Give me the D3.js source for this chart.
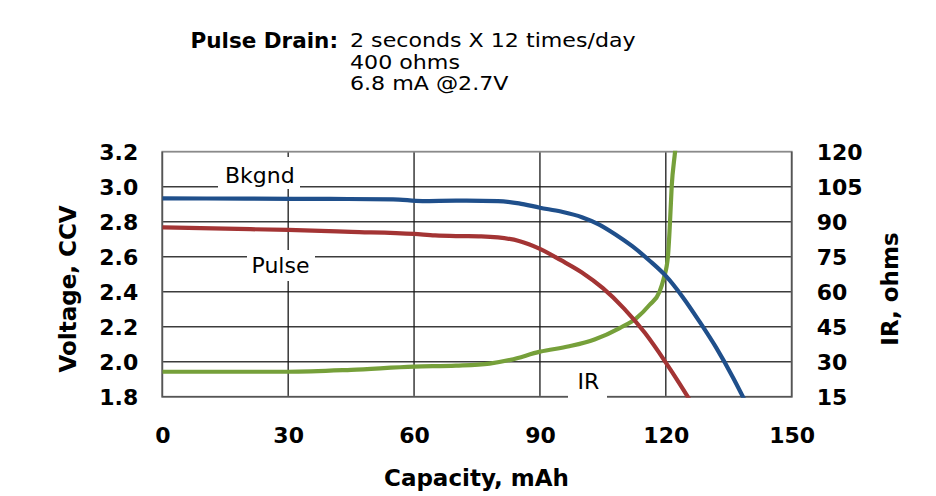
<!DOCTYPE html>
<html>
<head>
<meta charset="utf-8">
<script src="https://cdn.jsdelivr.net/npm/d3@7"></script>
<style>
  html, body { margin: 0; padding: 0; background: #fff; }
  svg { display: block; font-family: "DejaVu Sans", Verdana, sans-serif; }
</style>
</head>
<body>
<svg id="chart" width="936" height="496"></svg>
<script>
// ---- data ----
const xTicks = [0, 30, 60, 90, 120, 150];
const voltageTicks = [1.8, 2.0, 2.2, 2.4, 2.6, 2.8, 3.0, 3.2];
const irTicks = [15, 30, 45, 60, 75, 90, 105, 120];

const bkgndCapacity = [0, 20, 40, 55, 62, 70, 80, 85, 90, 95, 100, 104, 108, 112, 116, 120, 124, 128, 132, 136, 139];
const bkgndVoltage  = [2.933, 2.932, 2.93, 2.928, 2.918, 2.92, 2.918, 2.905, 2.88, 2.858, 2.826, 2.785, 2.727, 2.66, 2.58, 2.49, 2.37, 2.23, 2.08, 1.91, 1.77];

const pulseCapacity = [0, 15, 30, 45, 60, 65, 70, 76, 80, 85, 90, 95, 100, 105, 110, 115, 120, 123, 126];
const pulseVoltage  = [2.768, 2.76, 2.753, 2.742, 2.73, 2.722, 2.718, 2.716, 2.71, 2.69, 2.645, 2.58, 2.51, 2.42, 2.305, 2.165, 1.995, 1.885, 1.77];

const irCapacity = [0, 30, 45, 60, 70, 78, 83, 90, 97, 103, 109, 113, 116.1, 118.5, 119.5, 120.5, 121, 121.4, 122.2, 122.5];
const irOhms     = [25.7, 25.7, 26.5, 27.9, 28.3, 29.2, 30.8, 34.3, 36.6, 39.5, 44.4, 48.7, 54.3, 60, 65.7, 75, 90, 105, 120, 126];

const seriesLabels = ["Bkgnd", "Pulse", "IR"];
const headerKey = "Pulse Drain:";
const headerLines = ["2 seconds X 12 times/day", "400 ohms", "6.8 mA @2.7V"];
const xTitle = "Capacity, mAh";
const yLeftTitle = "Voltage, CCV";
const yRightTitle = "IR, ohms";

// ---- layout ----
const svg = d3.select("#chart");
const L = 162.3, R = 791.7, T = 151.7, B = 396.7;

const x = d3.scaleLinear().domain([0, 150]).range([L, R]);
const yV = d3.scaleLinear().domain([1.8, 3.2]).range([B, T]);
const yI = d3.scaleLinear().domain([15, 120]).range([B, T]);

// clip
svg.append("defs").append("clipPath").attr("id", "plotclip")
  .append("rect").attr("x", L).attr("y", T - 1).attr("width", R - L).attr("height", B - T + 2);

// grid
const grid = svg.append("g");
grid.selectAll("line.h").data(voltageTicks.filter(v => v > 1.8 && v < 3.2)).enter()
  .append("line").attr("class", "h")
  .attr("x1", L).attr("x2", R).attr("y1", d => yV(d)).attr("y2", d => yV(d))
  .attr("stroke", "#3c3c3c").attr("stroke-width", 1.5);
grid.selectAll("line.v").data(xTicks.filter(v => v > 0 && v < 150)).enter()
  .append("line").attr("class", "v")
  .attr("y1", T).attr("y2", B).attr("x1", d => x(d)).attr("x2", d => x(d))
  .attr("stroke", "#1a1a1a").attr("stroke-width", 1.3);
grid.append("rect").attr("x", L).attr("y", T).attr("width", R - L).attr("height", B - T)
  .attr("fill", "none").attr("stroke", "#8a8a8a").attr("stroke-width", 1.8);
grid.append("path").attr("d", `M${L},${T}V${B}H${R}V${T}`)
  .attr("fill", "none").attr("stroke", "#555").attr("stroke-width", 1.6);

// axes
const tickFont = g => g.selectAll("text")
  .attr("font-family", "DejaVu Sans, Verdana, sans-serif")
  .attr("font-weight", "bold").attr("font-size", 22).attr("fill", "#000");

const axL = svg.append("g").attr("transform", `translate(${L},0)`)
  .call(d3.axisLeft(yV).tickValues(voltageTicks).tickFormat(d3.format(".1f")).tickSize(0).tickPadding(24));
axL.select(".domain").remove(); tickFont(axL);
axL.selectAll("text").attr("dy", "0.36em");

const axR = svg.append("g").attr("transform", `translate(${R},0)`)
  .call(d3.axisRight(yI).tickValues(irTicks).tickFormat(d3.format("d")).tickSize(0).tickPadding(25));
axR.select(".domain").remove(); tickFont(axR);
axR.selectAll("text").attr("dy", "0.36em");

const axB = svg.append("g").attr("transform", `translate(0,${B})`)
  .call(d3.axisBottom(x).tickValues(xTicks).tickFormat(d3.format("d")).tickSize(0).tickPadding(31));
axB.select(".domain").remove(); tickFont(axB);

// titles
svg.append("text").attr("x", (L + R) / 2 - 0.5).attr("y", 486).attr("text-anchor", "middle")
  .attr("font-weight", "bold").attr("font-size", 23).text(xTitle);
svg.append("text").attr("transform", `translate(76,289) rotate(-90)`).attr("text-anchor", "middle")
  .attr("font-weight", "bold").attr("font-size", 23).text(yLeftTitle);
svg.append("text").attr("transform", `translate(897.5,289) rotate(-90)`).attr("text-anchor", "middle")
  .attr("font-weight", "bold").attr("font-size", 23).text(yRightTitle);

// header
svg.append("text").attr("x", 338).attr("y", 47.5).attr("text-anchor", "end")
  .attr("font-weight", "bold").attr("font-size", 21.5).text(headerKey);
const hdrSize = 18.6, hdrWidthScale = 1.19;
svg.selectAll("text.hdr").data(headerLines).enter().append("text").attr("class", "hdr")
  .attr("x", 350).attr("y", (d, i) => 47 + i * 21.7).attr("font-size", hdrSize).text(d => d)
  .each(function () {
    const w = this.getComputedTextLength();
    d3.select(this).attr("textLength", w * hdrWidthScale).attr("lengthAdjust", "spacingAndGlyphs");
  });

// series labels with white boxes
const labelPos = [
  { box: [218, 157, 82, 32], tx: 225, ty: 183 },
  { box: [247, 250, 68, 31], tx: 251.5, ty: 273 },
  { box: [568, 372, 39, 27], tx: 577.5, ty: 388.5 }
];
seriesLabels.forEach((lab, i) => {
  const p = labelPos[i];
  svg.append("rect").attr("x", p.box[0]).attr("y", p.box[1]).attr("width", p.box[2]).attr("height", p.box[3]).attr("fill", "#fff");
  svg.append("text").attr("x", p.tx).attr("y", p.ty).attr("font-size", 22).text(lab);
});

// lines
const plot = svg.append("g").attr("clip-path", "url(#plotclip)");
const mk = (xs, ys) => xs.map((c, i) => [c, ys[i]]);
const lineV = d3.line().x(d => x(d[0])).y(d => yV(d[1])).curve(d3.curveMonotoneX);
const lineI = d3.line().x(d => x(d[0])).y(d => yI(d[1])).curve(d3.curveMonotoneX);

plot.append("path").datum(mk(irCapacity, irOhms)).attr("d", lineI)
  .attr("fill", "none").attr("stroke", "#76a03a").attr("stroke-width", 4.2);
plot.append("path").datum(mk(pulseCapacity, pulseVoltage)).attr("d", lineV)
  .attr("fill", "none").attr("stroke", "#a33434").attr("stroke-width", 4.2);
plot.append("path").datum(mk(bkgndCapacity, bkgndVoltage)).attr("d", lineV)
  .attr("fill", "none").attr("stroke", "#1f4f8b").attr("stroke-width", 4.2);
</script>
</body>
</html>
